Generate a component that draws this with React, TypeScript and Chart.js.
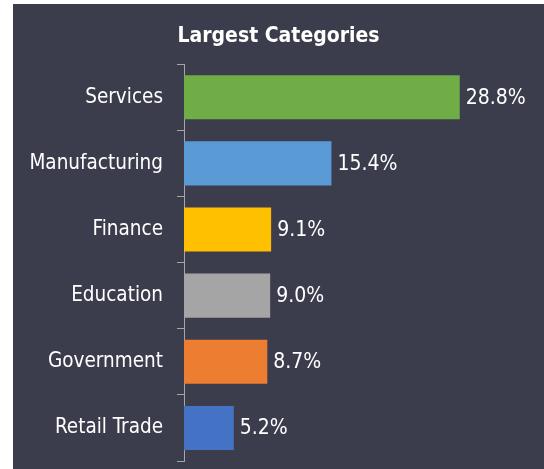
import React, { useEffect, useRef } from "react";
import { Chart, registerables } from "chart.js";

Chart.register(...registerables);

const categories = ["Services", "Manufacturing", "Finance", "Education", "Government", "Retail Trade"];
const values = [28.8, 15.4, 9.1, 9.0, 8.7, 5.2];
const barColors = ["#70ad47", "#5b9bd5", "#ffc000", "#a5a5a5", "#ed7d31", "#4472c4"];
const titleText = "Largest Categories";

const FONT = "'DejaVu Sans Condensed', 'DejaVu Sans', sans-serif";

const valueLabels = {
  id: "valueLabels",
  afterDatasetsDraw(chart: any) {
    const ctx = chart.ctx;
    const meta = chart.getDatasetMeta(0);
    ctx.save();
    ctx.fillStyle = "#ffffff";
    ctx.font = `21px ${FONT}`;
    ctx.textAlign = "left";
    ctx.textBaseline = "middle";
    meta.data.forEach((el: any, i: number) => {
      ctx.fillText(values[i].toFixed(1) + "%", el.x + 6, el.y + 1);
    });
    ctx.restore();
  },
};

export default function App() {
  const ref = useRef<HTMLCanvasElement>(null);
  useEffect(() => {
    let chart: any = null;
    let cancelled = false;
    const build = () => {
      if (cancelled || !ref.current) return;
      chart = new Chart(ref.current, {
        type: "bar",
        data: {
          labels: categories,
          datasets: [
            {
              data: values,
              backgroundColor: barColors,
              borderWidth: 0,
              barPercentage: 0.667,
              categoryPercentage: 1,
            },
          ],
        },
        options: {
          indexAxis: "y",
          animation: false,
          responsive: false,
          layout: { padding: { left: 0, right: 0, top: 0, bottom: 8 } },
          plugins: {
            legend: { display: false },
            tooltip: { enabled: false },
            title: {
              display: true,
              text: titleText,
              color: "#ffffff",
              font: { family: FONT, size: 21, weight: "bold" },
              padding: { top: 20, bottom: 15 },
            },
          },
          scales: {
            x: {
              display: false,
              min: 0,
              max: 37.6,
            },
            y: {
              afterFit: (scale: any) => {
                scale.width = 171;
                scale.paddingTop = 0;
                scale.paddingBottom = 0;
              },
              border: { display: true, color: "#a6a6a6", width: 1 },
              grid: {
                display: true,
                drawOnChartArea: false,
                drawTicks: true,
                tickLength: 7,
                color: "#a6a6a6",
                offset: true,
              },
              ticks: {
                color: "#ffffff",
                padding: 14,
                font: { family: FONT, size: 20.5 },
              },
            },
          },
        },
        plugins: [valueLabels],
      });
    };
    const fonts: any = (document as any).fonts;
    if (fonts && fonts.load) {
      Promise.all([
        fonts.load("20px 'DejaVu Sans Condensed'"),
        fonts.load("bold 21px 'DejaVu Sans Condensed'"),
      ])
        .catch(() => null)
        .then(build);
    } else {
      build();
    }
    return () => {
      cancelled = true;
      if (chart) chart.destroy();
    };
  }, []);
  return (
    <div
      style={{
        position: "absolute",
        left: 13,
        top: 4,
        width: 531,
        height: 465,
        background: "#3b3d4d",
      }}
    >
      <canvas ref={ref} width={531} height={465} style={{ display: "block" }} />
    </div>
  );
}
